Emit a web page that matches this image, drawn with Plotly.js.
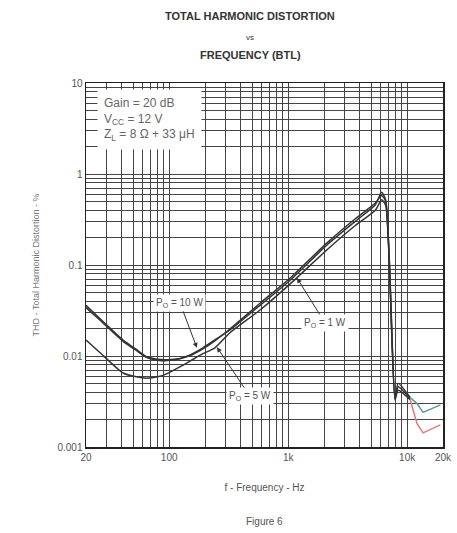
<!DOCTYPE html>
<html>
<head>
<meta charset="utf-8">
<script src="https://cdn.plot.ly/plotly-3.0.1.min.js"></script>
<style>
  html, body { margin: 0; padding: 0; background: #fff; }
  #chart { width: 457px; height: 533px; }
</style>
</head>
<body>
<div id="chart"></div>
<script>
// Frequency points (Hz) shared by the three output-power curves
const freq = [20, 26, 41, 53, 65, 80, 96, 123, 150, 192, 242, 324, 580, 1040, 2120, 3640, 5400, 6100, 6600, 7900, 8400, 10600];

// THD (%) for each output power
const thd10W = [0.036, 0.026, 0.015, 0.0118, 0.0098, 0.0092, 0.0091, 0.0094, 0.0103, 0.0123, 0.015, 0.0193, 0.036, 0.068, 0.166, 0.30, 0.46, 0.63, 0.52, 0.0035, 0.005, 0.0035];
const thd5W  = [0.015, 0.011, 0.0065, 0.0059, 0.0057, 0.0059, 0.0064, 0.0076, 0.0088, 0.0106, 0.0123, 0.018, 0.032, 0.062, 0.147, 0.27, 0.40, 0.52, 0.45, 0.0033, 0.0042, 0.0033];
const thd1W  = [0.034, 0.025, 0.0145, 0.0115, 0.0096, 0.0090, 0.0089, 0.0093, 0.0101, 0.0120, 0.0147, 0.0198, 0.038, 0.072, 0.175, 0.32, 0.48, 0.58, 0.50, 0.0034, 0.0046, 0.0034];

// High-frequency tails above 10 kHz
const tailFreq = [10600, 12100, 13600, 16500, 19000];
const tail10W  = [0.0035, 0.0030, 0.0024, 0.0027, 0.0029];
const tail5W   = [0.0033, 0.0018, 0.00143, 0.0016, 0.00175];

// Tick labels
const xTickVals = [20, 100, 1000, 10000, 20000];
const xTickText = ['20', '100', '1k', '10k', '20k'];
const yTickVals = [0.001, 0.01, 0.1, 1, 10];
const yTickText = ['0.001', '0.01', '0.1', '1', '10'];

// Full 1-2-...-9 log grid
function logGrid(lo, hi) {
  const out = [];
  for (let d = lo; d < hi; d *= 10) {
    for (let m = 1; m <= 9; m++) out.push(+(m * d).toPrecision(3));
  }
  out.push(hi);
  return out;
}
const xGrid = logGrid(10, 10000).filter(v => v >= 20).concat([20000]);
const yGrid = logGrid(0.001, 10);

const lineStyle = { color: '#333', width: 1.5, shape: 'spline', smoothing: 0.6 };

const traces = [
  { x: freq, y: thd10W, mode: 'lines', line: lineStyle, name: 'PO = 10 W' },
  { x: freq, y: thd5W,  mode: 'lines', line: lineStyle, name: 'PO = 5 W' },
  { x: freq, y: thd1W,  mode: 'lines', line: lineStyle, name: 'PO = 1 W' },
  { x: tailFreq, y: tail10W, mode: 'lines', line: { color: '#5a9a9a', width: 1.5 }, name: 'tail 10 W' },
  { x: tailFreq, y: tail5W,  mode: 'lines', line: { color: '#e07a7a', width: 1.5 }, name: 'tail 5 W' }
];

const FONT = 'Liberation Sans, Arial, sans-serif';
const tickFont = { family: FONT, size: 10, color: '#555' };
const gridStyle = { showgrid: true, gridcolor: '#444', gridwidth: 1 };

function axisBase(grid, vals, text) {
  return Object.assign({
    type: 'log',
    tickmode: 'array',
    tickvals: vals,
    ticktext: text,
    ticks: '',
    showline: true, linecolor: '#222', linewidth: 1.5, mirror: true,
    zeroline: false,
    tickfont: tickFont,
    minor: Object.assign({ tickmode: 'array', tickvals: grid, ticks: '' }, gridStyle)
  }, gridStyle);
}

const xaxis = axisBase(xGrid, xTickVals, xTickText);
xaxis.range = [Math.log10(20), Math.log10(20000)];
xaxis.title = { text: 'f - Frequency - Hz', font: { family: FONT, size: 10, color: '#555' }, standoff: 22 };

const yaxis = axisBase(yGrid, yTickVals, yTickText);
yaxis.range = [-3, 1];
yaxis.title = { text: 'THD - Total Harmonic Distortion - %', font: { family: FONT, size: 9, color: '#777' }, standoff: 16 };

function paperText(text, x, y, size, extra) {
  return Object.assign({
    xref: 'paper', yref: 'paper', x: x, y: y, xanchor: 'center', yanchor: 'middle',
    showarrow: false, text: text, font: { family: FONT, size: size, color: '#333' }
  }, extra || {});
}

function callout(f, v, text, ax, ay) {
  return {
    x: Math.log10(f), y: Math.log10(v), xref: 'x', yref: 'y',
    text: text, showarrow: true, arrowhead: 2, arrowsize: 1, arrowwidth: 1, arrowcolor: '#333',
    ax: ax, ay: ay, bgcolor: '#fff', borderpad: 2,
    font: { family: FONT, size: 10, color: '#555' }
  };
}

// plot area spans y = 83..447 px; paper fractions computed from pixel rows
const PH = 364, PT = 83;
const py = px => (PT + PH - px) / PH;

const layout = {
  width: 457,
  height: 533,
  margin: { l: 86, r: 14, t: 83, b: 86 },
  paper_bgcolor: '#fff',
  plot_bgcolor: '#fff',
  showlegend: false,
  xaxis: xaxis,
  yaxis: yaxis,
  annotations: [
    paperText('<b>TOTAL HARMONIC DISTORTION</b>', 0.46, py(16), 11),
    paperText('vs', 0.46, py(37), 8),
    paperText('<b>FREQUENCY (BTL)</b>', 0.46, py(55), 11),
    // test conditions box
    {
      xref: 'paper', yref: 'paper', x: 0.03, y: py(89), xanchor: 'left', yanchor: 'top',
      showarrow: false, align: 'left',
      text: 'Gain = 20 dB<br>V<sub>CC</sub> = 12 V<br>Z<sub>L</sub> = 8 Ω + 33 μH',
      font: { family: FONT, size: 12, color: '#666' },
      bgcolor: '#fff', borderpad: 6
    },
    callout(171, 0.0123, 'P<sub>O</sub> = 10 W', -17, -45),
    callout(1186, 0.072, 'P<sub>O</sub> = 1 W', 28, 45),
    callout(252, 0.0125, 'P<sub>O</sub> = 5 W', 33, 49),
    paperText('Figure 6', 0.5, py(521), 10, { font: { family: FONT, size: 10, color: '#555' } })
  ]
};

Plotly.newPlot('chart', traces, layout, { staticPlot: true, displayModeBar: false });
</script>
</body>
</html>
